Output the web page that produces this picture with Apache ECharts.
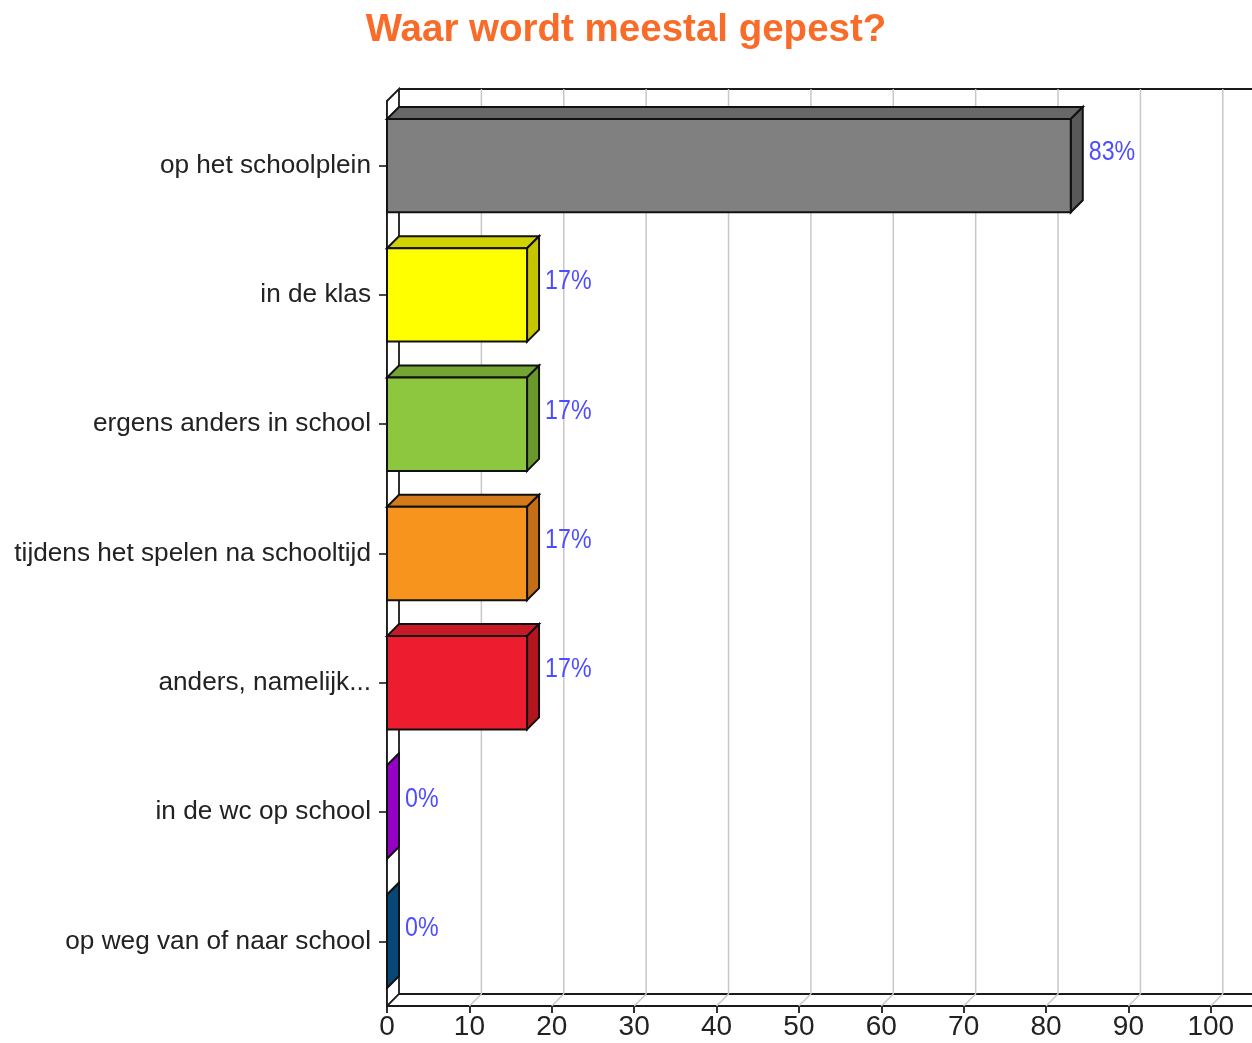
<!DOCTYPE html>
<html>
<head>
<meta charset="utf-8">
<style>html,body{margin:0;padding:0;background:#fff}#c{width:1252px;height:1043px}</style>
<script src="https://cdn.jsdelivr.net/npm/echarts@6/dist/echarts.min.js"></script>
</head>
<body>
<div id="c"></div>
<script>
const titleText = 'Waar wordt meestal gepest?';
const categories = ['op het schoolplein','in de klas','ergens anders in school','tijdens het spelen na schooltijd','anders, namelijk...','in de wc op school','op weg van of naar school'];
const values = [83, 17, 17, 17, 17, 0, 0];
const valueLabels = ['83%','17%','17%','17%','17%','0%','0%'];
const tickValues = [0,10,20,30,40,50,60,70,80,90,100];
const frontColors = ['#808080','#ffff00','#8dc63f','#f7941d','#ed1c2e','#9900cc','#004d80'];
const topColors   = ['#686868','#d2d200','#74a532','#d47a1a','#c71a26','#8a00b8','#04497a'];
const sideColors  = ['#595959','#c6c600','#6a982c','#c46f17','#b3151f','#9400c6','#074878'];

const D = 12; // depth offset in px
const chart = echarts.init(document.getElementById('c'), null, {renderer:'canvas'});

const frameSeries = {
  type:'custom', z:1, silent:true, clip:false,
  data:[[0,0]],
  encode:{x:0,y:1},
  renderItem:function(params, api){
    const cs = params.coordSys;
    const L = cs.x, T = cs.y, B = cs.y + cs.height, R = 1260;
    const stroke = '#1a1a1a';
    return {type:'group', children:[
      {type:'rect', shape:{x:L+D, y:T-D, width:R-L-D, height:cs.height}, style:{fill:'#fff'}},
      {type:'polygon', shape:{points:[[L,T],[L+D,T-D],[L+D,B-D],[L,B]]}, style:{fill:'#fff', stroke:stroke, lineWidth:1.8}},
      {type:'line', shape:{x1:L+D, y1:T-D, x2:R, y2:T-D}, style:{stroke:stroke, lineWidth:1.8}},
      {type:'line', shape:{x1:L+D, y1:B-D, x2:R, y2:B-D}, style:{stroke:stroke, lineWidth:1.8}}
    ]};
  }
};

const gridSeries = {
  type:'custom', z:2, silent:true, clip:false,
  data: tickValues.filter(v => v > 0).map(v => [v, 0]),
  encode:{x:0,y:1},
  renderItem:function(params, api){
    const cs = params.coordSys;
    const x = api.coord([api.value(0), 0])[0];
    const T = cs.y, B = cs.y + cs.height;
    return {type:'group', children:[
      {type:'line', shape:{x1:x+D, y1:T-D, x2:x+D, y2:B-D}, style:{stroke:'#c8c8c8', lineWidth:1.5}},
      {type:'line', shape:{x1:x+D, y1:B-D, x2:x, y2:B}, style:{stroke:'#c8c8c8', lineWidth:1.5}}
    ]};
  }
};

const barSeries = {
  type:'custom', z:5, clip:false,
  data: values.map((v,i) => [v, i]),
  encode:{x:0,y:1},
  renderItem:function(params, api){
    const i = params.dataIndex;
    const v = api.value(0);
    const x0 = api.coord([0, i])[0];
    const p = api.coord([v, i]);
    const x1 = p[0], yc = p[1];
    const band = api.size([0,1])[1];
    const h = band * 0.722;
    const t = yc - h/2, b = yc + h/2;
    const st = {stroke:'#111', lineWidth:2, lineJoin:'miter'};
    return {type:'group', children:[
      {type:'polygon', shape:{points:[[x0,t],[x0+D,t-D],[x1+D,t-D],[x1,t]]}, style:Object.assign({fill:topColors[i]}, st)},
      {type:'polygon', shape:{points:[[x1,t],[x1+D,t-D],[x1+D,b-D],[x1,b]]}, style:Object.assign({fill:sideColors[i]}, st)},
      {type:'rect', shape:{x:x0, y:t, width:x1-x0, height:h}, style:Object.assign({fill:frontColors[i]}, st)},
      {type:'text', x:x1+D+6, y:yc-D-1, scaleX:0.86, style:{text:valueLabels[i], fill:'#4d4dff', font:'27px "Liberation Sans", Arial, sans-serif', align:'left', verticalAlign:'middle'}}
    ]};
  }
};

chart.setOption({
  animation:false,
  backgroundColor:'#fff',
  title:{text:titleText, left:'center', top:6, textStyle:{color:'#f86b28', fontSize:38.5, fontWeight:'bold', fontFamily:'"Liberation Sans", Arial, sans-serif'}},
  grid:{left:387, right:0, top:101, bottom:37, containLabel:false},
  xAxis:{type:'value', min:0, max:105, interval:10,
    axisLine:{show:true, lineStyle:{color:'#1a1a1a', width:1.8}},
    axisTick:{show:true, length:7, customValues:tickValues, lineStyle:{color:'#1a1a1a', width:1.8}},
    axisLabel:{customValues:tickValues, color:'#222', fontSize:28, margin:7, fontFamily:'"Liberation Sans", Arial, sans-serif'},
    splitLine:{show:false}},
  yAxis:{type:'category', data:categories, inverse:true,
    axisLine:{show:true, lineStyle:{color:'#1a1a1a', width:1.8}},
    axisTick:{show:true, length:8, alignWithLabel:true, lineStyle:{color:'#1a1a1a', width:1.6}},
    axisLabel:{color:'#222', fontSize:26.2, margin:16, verticalAlign:'middle', lineHeight:26, padding:[6,0,0,0], fontFamily:'"Liberation Sans", Arial, sans-serif'},
    splitLine:{show:false}},
  series:[frameSeries, gridSeries, barSeries]
});
</script>
</body>
</html>
